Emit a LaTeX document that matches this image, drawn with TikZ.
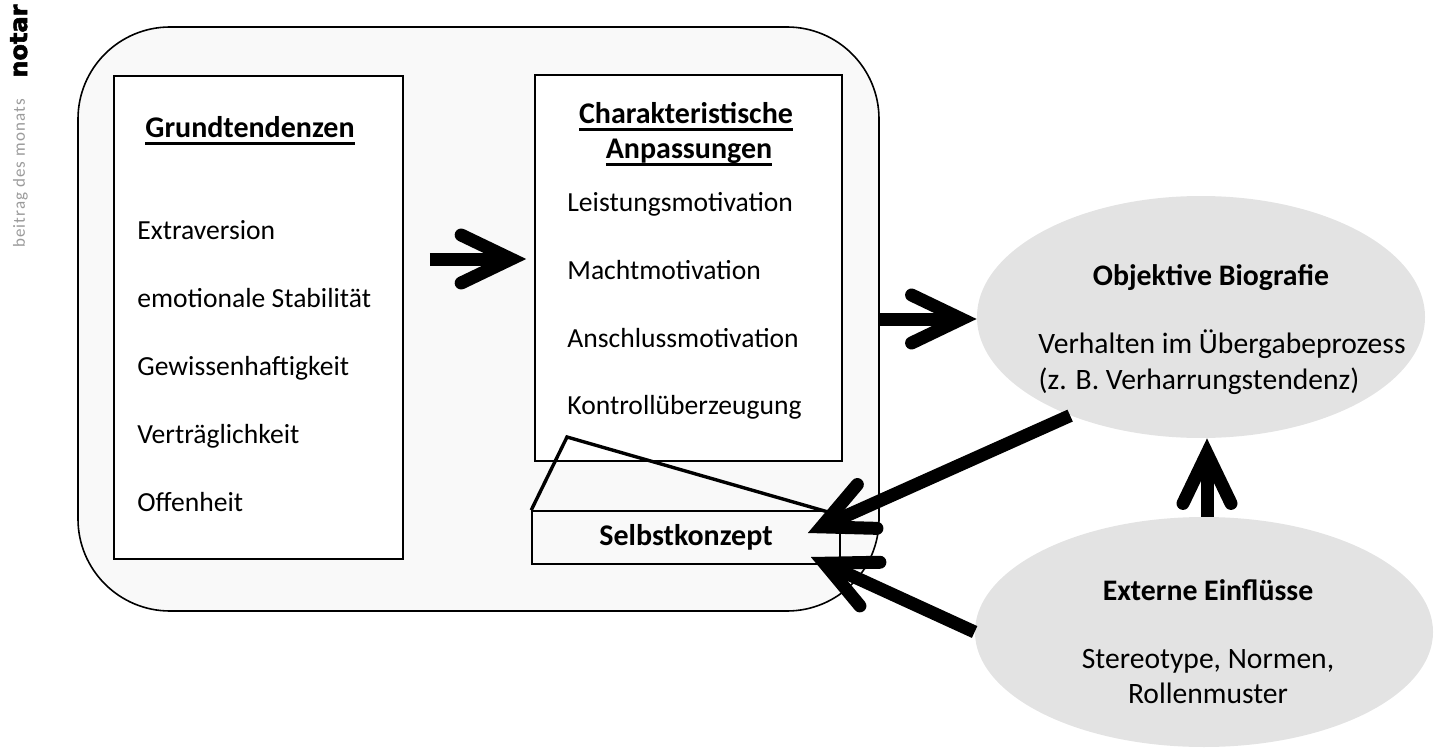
\documentclass[tikz,border=0pt]{standalone}
\usepackage{fontspec}
\setmainfont{Carlito}
\newfontfamily\logofont[FakeBold=2.5]{DejaVu Sans}
\usetikzlibrary{arrows.meta,shapes.geometric,calc}
\definecolor{ellfill}{HTML}{E3E3E3}
\definecolor{boxfill}{HTML}{F9F9F9}
\definecolor{logogray}{HTML}{9A9A9A}
\newsavebox\myulbox
\newcommand\myul[1]{\sbox\myulbox{#1}\rlap{\rule[-3.3pt]{\wd\myulbox}{1.2pt}}\usebox\myulbox}
\tikzset{
  frame/.style={draw, line width=0.8pt, inner sep=0pt},
  listtxt/.style={anchor=base west, inner sep=0pt, font=\fontsize{13.8}{16}\selectfont},
  headtxt/.style={inner sep=0pt, font=\bfseries\fontsize{15}{18}\selectfont},
  elltxt/.style={anchor=base, inner sep=0pt, font=\fontsize{14.8}{18}\selectfont},
  elltitle/.style={anchor=base, inner sep=0pt, font=\bfseries\fontsize{14.9}{18}\selectfont},
  ell/.style={ellipse, fill=ellfill, inner sep=0pt},
  bigarrow/.style={line width=6.5pt, -{Straight Barb[length=25pt, width=24pt, line cap=round, line join=miter]}},
}
\begin{document}
\begin{tikzpicture}[x=0.5pt, y=-0.5pt]
\useasboundingbox (0,0) rectangle (1435,749);

% logo
\node[rotate=90, anchor=base west, inner sep=0pt, font=\logofont\bfseries\fontsize{12}{14}\selectfont] (logo) at (27,78) {notar};
\node[rotate=90, anchor=base west, inner sep=0pt, text=logogray, font=\fontsize{8.5}{10}\selectfont\addfontfeature{LetterSpace=6.3}] (tag) at (25,248) {beitrag des monats};

% boxes
\node[frame, fill=boxfill, rounded corners=46pt, minimum width=400.5pt, minimum height=292pt] (outer) at (478.5,319) {};
\node[frame, fill=white, minimum width=144.5pt, minimum height=241.5pt] (left) at (258.5,317.5) {};
\node[frame, fill=white, minimum width=153.5pt, minimum height=193pt] (mid) at (688.5,268) {};
\node[frame, fill=boxfill, minimum width=154pt, minimum height=26.5pt, headtxt] (selbst) at (686,537.5) {Selbstkonzept};

% callout
\coordinate (apex) at (567,437);
\draw[line width=1.7pt, line join=miter] (selbst.north west) -- (apex) -- ($(selbst.north east)+(-12,2)$);

% left box text
\node[headtxt, anchor=base west] (gt) at (145,138) {\myul{Grundtendenzen}};
\node[listtxt] (g1) at (137,239) {Extraversion};
\node[listtxt] (g2) at (137,307) {emotionale Stabilität};
\node[listtxt] (g3) at (137,375) {Gewissenhaftigkeit};
\node[listtxt] (g4) at (137,443) {Verträglichkeit};
\node[listtxt] (g5) at (137,511) {Offenheit};

% middle box text
\node[headtxt, anchor=base] (ch1) at (686,124) {\myul{Charakteristische}};
\node[headtxt, anchor=base] (ch2) at (689,159) {\myul{Anpassungen}};
\node[listtxt] (c1) at (567,212) {Leistungsmotivation};
\node[listtxt] (c2) at (567,279) {Machtmotivation};
\node[listtxt] (c3) at (567,347) {Anschlussmotivation};
\node[listtxt] (c4) at (567,414) {Kontrollüberzeugung};

% ellipses
\node[ell, minimum width=224pt, minimum height=121pt] (obj) at (1201,317) {};
\node[ell, minimum width=229pt, minimum height=115pt] (ext) at (1204,632) {};
\node[elltitle] (objt) at (1211,285) {Objektive Biografie};
\node[elltxt] (objl1) at (1222,353) {Verhalten im Übergabeprozess};
\node[elltxt] (objl2) at (1199,389) {(z. B. Verharrungstendenz)};
\node[elltitle] (extt) at (1208,600) {Externe Einflüsse};
\node[elltxt] (extl1) at (1208,668) {Stereotype, Normen,};
\node[elltxt] (extl2) at (1208,703) {Rollenmuster};

% arrows
\draw[bigarrow] ($(left.east)+(26,-58.5)$) -- ($(mid.west)+(-8,-9)$);
\draw[bigarrow] (outer.east) -- (outer.east -| obj.west);
\draw[bigarrow] (obj.217) -- ($(selbst.east)+(-33,-4.5)$);
\draw[bigarrow] (ext.west) -- ($(selbst.east)+(-30,19.5)$);
\draw[bigarrow] ($(ext.north)+(3,0)$) -- ($(obj.south)+(6,0)$);
\end{tikzpicture}
\end{document}
